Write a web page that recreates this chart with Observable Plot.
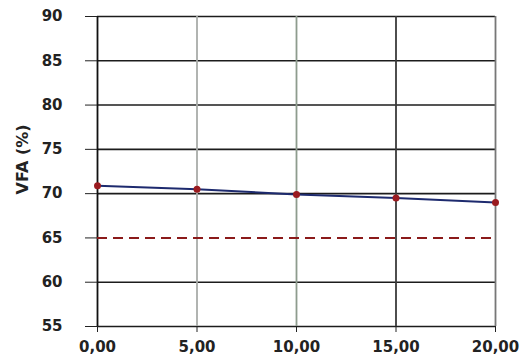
<!DOCTYPE html>
<html>
<head>
<meta charset="utf-8">
<script src="https://cdn.jsdelivr.net/npm/d3@7"></script>
<script src="https://cdn.jsdelivr.net/npm/@observablehq/plot@0.6"></script>
<style>
  html, body { margin: 0; padding: 0; background: #fff; }
  #chart svg { display: block; }
</style>
</head>
<body>
<div id="chart"></div>
<script>
// Filler content (%) vs. VFA (%)
const content = [0, 5, 10, 15, 20];
const vfa = [70.9, 70.5, 69.9, 69.5, 69.0];
const vfaLimit = 65;
const xTicks = [0, 5, 10, 15, 20];
const yTicks = [55, 60, 65, 70, 75, 80, 85, 90];
const yLabel = "VFA (%)";

const rows = content.map((c, i) => ({c, v: vfa[i]}));
const vGridColor = {0: "#111", 5: "#a9aca9", 10: "#8e9c8e", 15: "#3a3a3a", 20: "#777"};
const comma = d => d.toFixed(2).replace(".", ",");

const chart = Plot.plot({
  width: 530,
  height: 363,
  marginTop: 16,
  marginBottom: 37,
  marginLeft: 97,
  marginRight: 35,
  style: {fontFamily: "DejaVu Sans", fontSize: "15px", fontWeight: "bold", color: "#222", background: "#fff"},
  x: {domain: [0, 20]},
  y: {domain: [55, 90]},
  marks: [
    Plot.ruleY(yTicks.filter(t => t !== vfaLimit), {stroke: "#1c1c1c", strokeWidth: 1.6}),
    Plot.ruleX(xTicks, {stroke: d => vGridColor[d], strokeWidth: 1.8}),
    Plot.ruleY([vfaLimit], {stroke: "#8b1a1a", strokeWidth: 2, strokeDasharray: "10,6"}),
    Plot.line(rows, {x: "c", y: "v", stroke: "#1d2a6e", strokeWidth: 2}),
    Plot.dot(rows, {x: "c", y: "v", fill: "#9a1a1f", r: 3.5}),
    Plot.axisX({ticks: xTicks, tickFormat: comma, tickSize: 6, tickPadding: 9, stroke: "#222", label: null}),
    Plot.axisY({ticks: yTicks, tickSize: 12, tickPadding: 23, stroke: "#222", label: null}),
    Plot.text([yLabel], {frameAnchor: "left", text: d => d, rotate: -90, dx: -75, dy: 23,
      fontSize: 16, fontWeight: "bold", fill: "#222", lineAnchor: "middle"})
  ]
});
document.getElementById("chart").append(chart);
</script>
</body>
</html>
